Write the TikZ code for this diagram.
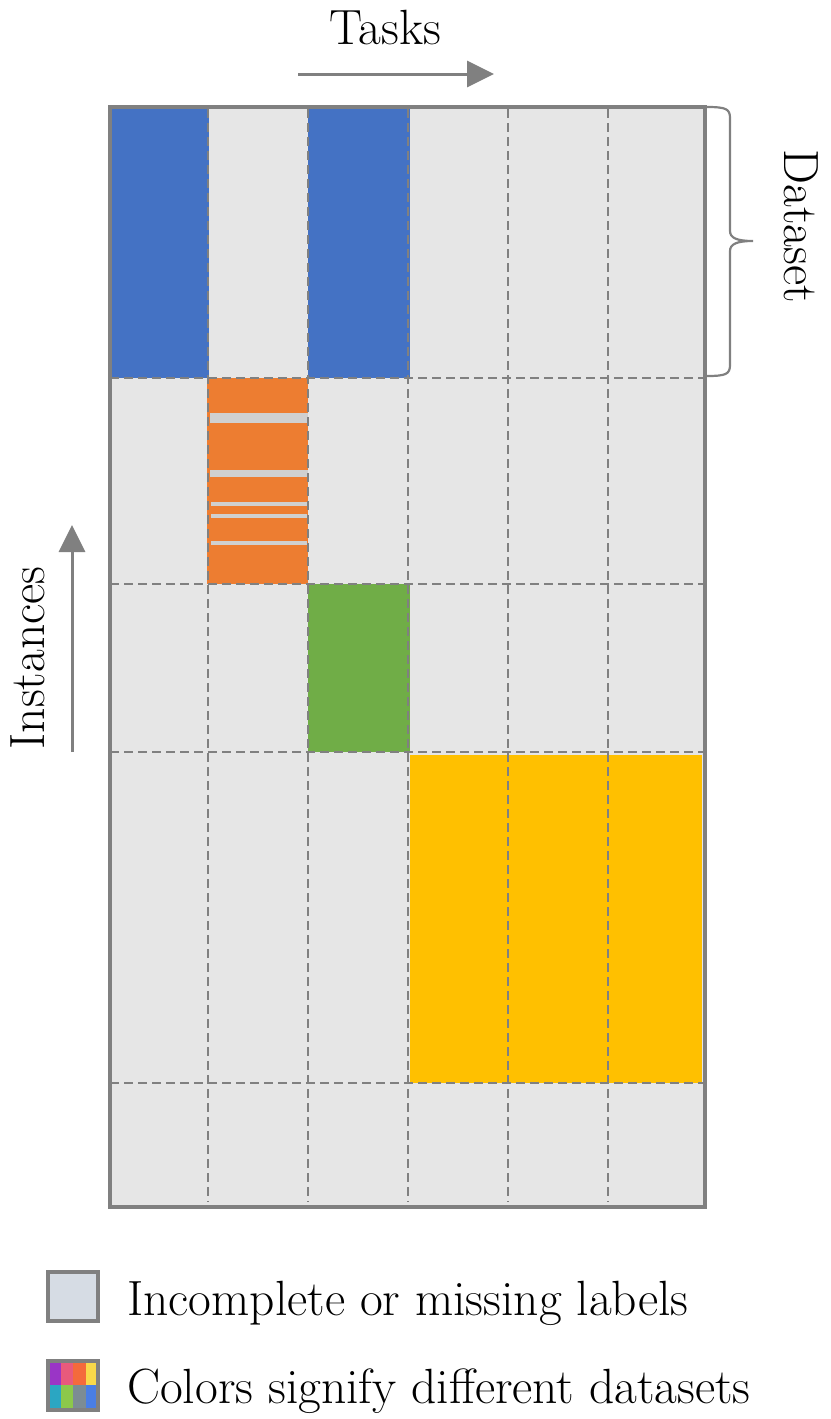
\documentclass[tikz,border=0pt]{standalone}
\usepackage{fontspec}
\usetikzlibrary{arrows.meta}
\definecolor{bggray}{HTML}{E6E6E6}
\definecolor{linegray}{HTML}{808080}
\definecolor{stripegray}{HTML}{D0D0D0}
\definecolor{cblue}{HTML}{4472C4}
\definecolor{corange}{HTML}{ED7D31}
\definecolor{cgreen}{HTML}{70AD47}
\definecolor{cyellow}{HTML}{FFC000}
\definecolor{legfill}{HTML}{D6DCE4}
\definecolor{lpurple}{HTML}{9A35C6}
\definecolor{lpink}{HTML}{E85A7C}
\definecolor{lorange}{HTML}{F46A3C}
\definecolor{lyellow}{HTML}{F8D84A}
\definecolor{lteal}{HTML}{2BA6C2}
\definecolor{lgreen}{HTML}{8CC84B}
\definecolor{lgraycell}{HTML}{7C8C94}
\definecolor{lblue}{HTML}{4A7EE4}
\tikzset{
  lbl/.style={font=\fontsize{49.5}{58}\selectfont, inner sep=0pt},
  gridline/.style={linegray, line width=2.5pt, dash pattern=on 9pt off 5pt},
  border/.style={linegray, line width=4pt},
  bigarrow/.style={linegray, line width=3pt, -{Triangle[length=27pt,width=26pt]}},
  bracestyle/.style={linegray, line width=2.2pt},
}
\begin{document}
\begin{tikzpicture}[x=1pt,y=-1pt]
\useasboundingbox (0,0) rectangle (830,1419);
% background of grid
\fill[bggray] (110,107) rectangle (705,1207);
% coloured blocks
\fill[cblue] (110,107) rectangle (209,378);
\fill[cblue] (308,107) rectangle (410,378);
\fill[corange] (207,378) rectangle (308,584);
\fill[stripegray] (210,413) rectangle (308,423);
\fill[stripegray] (210,470) rectangle (308,477);
\fill[stripegray] (211,502) rectangle (307,506);
\fill[stripegray] (211,514) rectangle (307,518);
\fill[stripegray] (211,541) rectangle (307,545);
\fill[cgreen] (308,584) rectangle (410,752);
\fill[cyellow] (410,755) rectangle (702,1083);
% dashed grid lines
\foreach \x in {208,308,408,508,608} \draw[gridline] (\x,109) -- (\x,1202);
\foreach \y in {378,584,752,1083} \draw[gridline] (110,\y) -- (705,\y);
% border
\draw[border] (110,107) rectangle (705,1207);
% brace
\draw[bracestyle] (707,107) .. controls (726,107) and (730,109) .. (730,118)
  -- (730,231) .. controls (730,238) and (737,241) .. (753,241)
  .. controls (737,241) and (730,244) .. (730,251)
  -- (730,365) .. controls (730,374) and (726,376) .. (707,376);
% labels
\node[lbl, anchor=base] (tasks) at (385,44) {Tasks};
\node[lbl, rotate=-90] (dataset) at (801,226) {Dataset};
\node[lbl, rotate=90] (instances) at (28,658) {Instances};
% arrows
\coordinate (ta) at (298,74);
\coordinate (tb) at (494,74);
\draw[bigarrow] (ta) -- (tb);
\coordinate (ia) at (72,752);
\coordinate (ib) at (72,525);
\draw[bigarrow] (ia) -- (ib);
% legend
\draw[border, fill=legfill] (48,1272) rectangle (98,1321);
\node[lbl, anchor=base west] (leg1) at (127,1315) {Incomplete or missing labels};
\fill[lpurple] (48,1361) rectangle (61,1385);
\fill[lpink] (61,1361) rectangle (73,1385);
\fill[lorange] (73,1361) rectangle (86,1385);
\fill[lyellow] (86,1361) rectangle (98,1385);
\fill[lteal] (48,1385) rectangle (61,1410);
\fill[lgreen] (61,1385) rectangle (73,1410);
\fill[lgraycell] (73,1385) rectangle (86,1410);
\fill[lblue] (86,1385) rectangle (98,1410);
\draw[border] (48,1361) rectangle (98,1410);
\node[lbl, anchor=base west] (leg2) at (127,1403) {Colors signify different datasets};
\end{tikzpicture}
\end{document}
